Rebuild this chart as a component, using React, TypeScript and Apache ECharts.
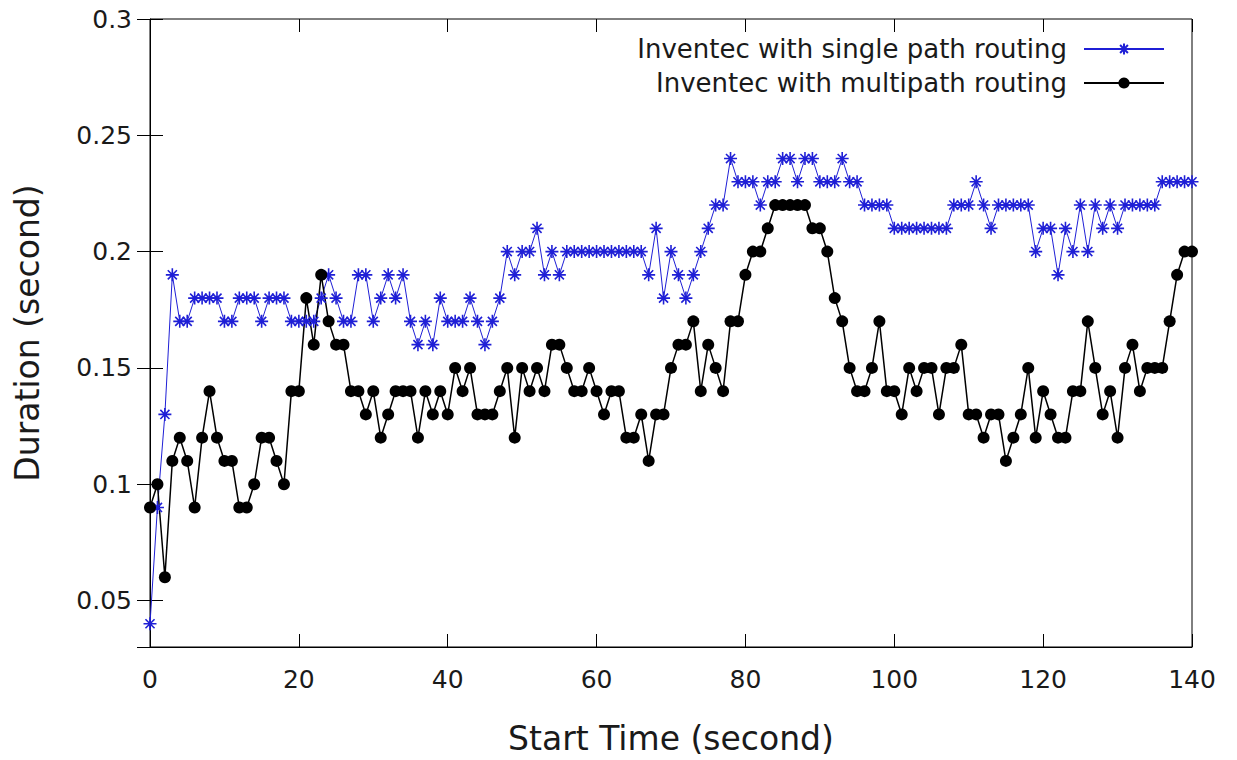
import React, { useEffect, useRef } from "react";
import * as echarts from "echarts";

// Start time (second): one sample per second, index = start time
const singlePathDuration: number[] = [
  0.04, 0.09, 0.13, 0.19, 0.17, 0.17, 0.18, 0.18, 0.18, 0.18,
  0.17, 0.17, 0.18, 0.18, 0.18, 0.17, 0.18, 0.18, 0.18, 0.17,
  0.17, 0.17, 0.17, 0.18, 0.19, 0.18, 0.17, 0.17, 0.19, 0.19,
  0.17, 0.18, 0.19, 0.18, 0.19, 0.17, 0.16, 0.17, 0.16, 0.18,
  0.17, 0.17, 0.17, 0.18, 0.17, 0.16, 0.17, 0.18, 0.20, 0.19,
  0.20, 0.20, 0.21, 0.19, 0.20, 0.19, 0.20, 0.20, 0.20, 0.20,
  0.20, 0.20, 0.20, 0.20, 0.20, 0.20, 0.20, 0.19, 0.21, 0.18,
  0.20, 0.19, 0.18, 0.19, 0.20, 0.21, 0.22, 0.22, 0.24, 0.23,
  0.23, 0.23, 0.22, 0.23, 0.23, 0.24, 0.24, 0.23, 0.24, 0.24,
  0.23, 0.23, 0.23, 0.24, 0.23, 0.23, 0.22, 0.22, 0.22, 0.22,
  0.21, 0.21, 0.21, 0.21, 0.21, 0.21, 0.21, 0.21, 0.22, 0.22,
  0.22, 0.23, 0.22, 0.21, 0.22, 0.22, 0.22, 0.22, 0.22, 0.20,
  0.21, 0.21, 0.19, 0.21, 0.20, 0.22, 0.20, 0.22, 0.21, 0.22,
  0.21, 0.22, 0.22, 0.22, 0.22, 0.22, 0.23, 0.23, 0.23, 0.23,
  0.23,
];

const multipathDuration: number[] = [
  0.09, 0.10, 0.06, 0.11, 0.12, 0.11, 0.09, 0.12, 0.14, 0.12,
  0.11, 0.11, 0.09, 0.09, 0.10, 0.12, 0.12, 0.11, 0.10, 0.14,
  0.14, 0.18, 0.16, 0.19, 0.17, 0.16, 0.16, 0.14, 0.14, 0.13,
  0.14, 0.12, 0.13, 0.14, 0.14, 0.14, 0.12, 0.14, 0.13, 0.14,
  0.13, 0.15, 0.14, 0.15, 0.13, 0.13, 0.13, 0.14, 0.15, 0.12,
  0.15, 0.14, 0.15, 0.14, 0.16, 0.16, 0.15, 0.14, 0.14, 0.15,
  0.14, 0.13, 0.14, 0.14, 0.12, 0.12, 0.13, 0.11, 0.13, 0.13,
  0.15, 0.16, 0.16, 0.17, 0.14, 0.16, 0.15, 0.14, 0.17, 0.17,
  0.19, 0.20, 0.20, 0.21, 0.22, 0.22, 0.22, 0.22, 0.22, 0.21,
  0.21, 0.20, 0.18, 0.17, 0.15, 0.14, 0.14, 0.15, 0.17, 0.14,
  0.14, 0.13, 0.15, 0.14, 0.15, 0.15, 0.13, 0.15, 0.15, 0.16,
  0.13, 0.13, 0.12, 0.13, 0.13, 0.11, 0.12, 0.13, 0.15, 0.12,
  0.14, 0.13, 0.12, 0.12, 0.14, 0.14, 0.17, 0.15, 0.13, 0.14,
  0.12, 0.15, 0.16, 0.14, 0.15, 0.15, 0.15, 0.17, 0.19, 0.20,
  0.20,
];

const seriesNames = [
  "Inventec with single path routing",
  "Inventec with multipath routing",
];

const FONT = "DejaVu Sans";
const BLUE = "#1f1fd6";
const STAR = "path://M5,0L5,10M0,5L10,5M1.5,1.5L8.5,8.5M8.5,1.5L1.5,8.5";

export default function App() {
  const ref = useRef<HTMLDivElement>(null);

  useEffect(() => {
    if (!ref.current) return;
    const chart = echarts.init(ref.current, undefined, { renderer: "svg" });

    const tickStyle = { inside: true, length: 13, lineStyle: { color: "#000", width: 1 } };
    const yFormatter = (v: number) => {
      const q = v / 0.05;
      return Math.abs(q - Math.round(q)) < 1e-6 ? String(+v.toFixed(2)) : "";
    };

    const legendBase = {
      orient: "horizontal" as const,
      right: 67,
      align: "right" as const,
      itemWidth: 80,
      itemHeight: 14,
      selectedMode: false,
      textStyle: { fontFamily: FONT, fontSize: 26, color: "#1a1a1a", padding: [0, 12, 0, 0] },
    };

    chart.setOption({
      animation: false,
      backgroundColor: "#fff",
      grid: {
        left: 150,
        right: 45,
        top: 19,
        bottom: 112,
        show: true,
        borderColor: "#000",
        borderWidth: 1,
        backgroundColor: "transparent",
      },
      legend: [
        { ...legendBase, top: 31, data: [seriesNames[0]] },
        { ...legendBase, top: 65, data: [seriesNames[1]] },
      ],
      xAxis: [
        {
          type: "value",
          min: 0,
          max: 140,
          interval: 20,
          name: "Start Time (second)",
          nameLocation: "middle",
          nameGap: 75,
          nameTextStyle: { fontFamily: FONT, fontSize: 33, color: "#1a1a1a" },
          axisLine: { show: true, lineStyle: { color: "#000" } },
          axisTick: tickStyle,
          axisLabel: { fontFamily: FONT, fontSize: 25, color: "#1a1a1a", margin: 20 },
          splitLine: { show: false },
        },
        {
          type: "value",
          position: "top",
          min: 0,
          max: 140,
          interval: 20,
          axisLine: { show: false },
          axisTick: tickStyle,
          axisLabel: { show: false },
          splitLine: { show: false },
        },
      ],
      yAxis: [
        {
          type: "value",
          min: 0.03,
          max: 0.3,
          name: "Duration (second)",
          nameLocation: "middle",
          nameGap: 106,
          nameTextStyle: { fontFamily: FONT, fontSize: 33, color: "#1a1a1a" },
          axisLine: { show: true, lineStyle: { color: "#000" } },
          axisTick: tickStyle,
          axisLabel: {
            fontFamily: FONT,
            fontSize: 25,
            color: "#1a1a1a",
            margin: 18,
            showMinLabel: false,
            formatter: yFormatter,
          },
          splitLine: { show: false },
        },
        {
          type: "value",
          position: "right",
          min: 0.03,
          max: 0.3,
          axisLine: { show: false },
          axisTick: tickStyle,
          axisLabel: { show: false },
          splitLine: { show: false },
        },
      ],
      series: [
        {
          name: seriesNames[0],
          type: "line",
          xAxisIndex: 0,
          yAxisIndex: 0,
          data: singlePathDuration.map((v, i) => [i, v]),
          showAllSymbol: true,
          symbol: STAR,
          symbolSize: 13,
          lineStyle: { color: BLUE, width: 1 },
          itemStyle: { color: BLUE, borderColor: BLUE, borderWidth: 1.6 },
        },
        {
          name: seriesNames[1],
          type: "line",
          xAxisIndex: 0,
          yAxisIndex: 0,
          data: multipathDuration.map((v, i) => [i, v]),
          showAllSymbol: true,
          symbol: "circle",
          symbolSize: 12,
          lineStyle: { color: "#000", width: 1.5 },
          itemStyle: { color: "#000" },
        },
      ],
    });

    return () => chart.dispose();
  }, []);

  return (
    <div
      ref={ref}
      style={{ position: "fixed", left: 0, top: 0, width: 1237, height: 760, background: "#fff" }}
    />
  );
}
